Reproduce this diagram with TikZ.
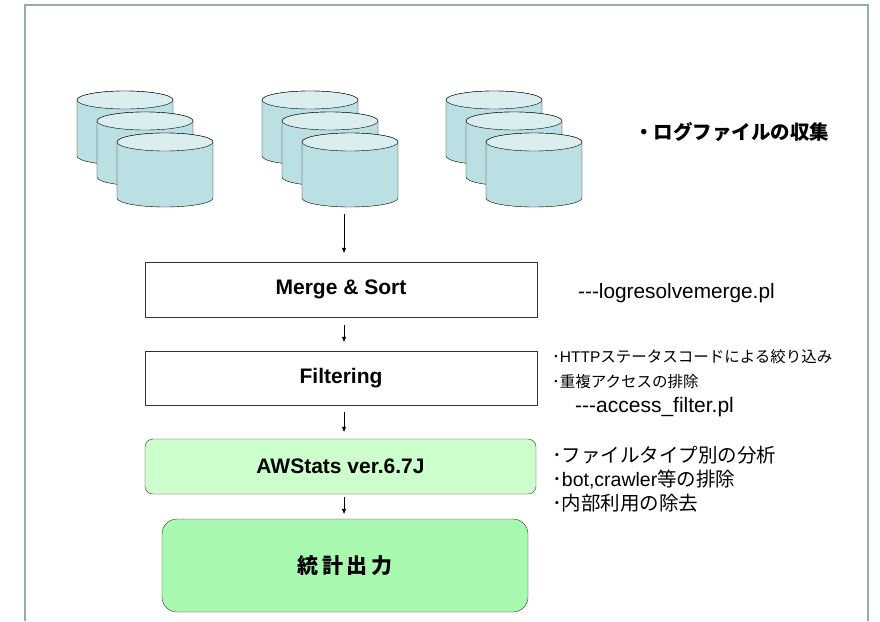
\documentclass[tikz,border=0pt]{standalone}
\usepackage{fontspec}
\setmainfont{Liberation Sans}
\newfontfamily\cjk{Noto Sans CJK JP}
\usetikzlibrary{arrows.meta}
\definecolor{framec}{HTML}{93AEB0}
\definecolor{dbbody}{HTML}{BBE0E3}
\definecolor{dbtop}{HTML}{DAEEF0}
\definecolor{awsfill}{HTML}{CCFFCC}
\definecolor{outfill}{HTML}{A8F8B0}
\tikzset{
  stepbox/.style={draw=black!80,rectangle,minimum width=392pt,minimum height=55pt,
    font=\bfseries\fontsize{21}{25}\selectfont},
  flow/.style={draw,-{Triangle[length=5pt,width=4pt]},line width=0.7pt},
  note/.style={anchor=west,inner sep=0pt}
}
\begin{document}
\begin{tikzpicture}[x=1pt,y=-1pt]
    \useasboundingbox (0,0) rectangle (880,621);
    \draw[framec,line width=2pt] (25,621) -- (25,5) -- (868,5) -- (868,621);
    \foreach \gx in {77,262,446}
      \foreach \dx/\dy in {0/0,20/21,40/42} {
        \path[draw,fill=dbbody] (\gx+\dx,100+\dy) -- (\gx+\dx,156+\dy)
          arc(180:360:48pt and 9pt) -- (\gx+\dx+96,100+\dy)
          arc(0:180:48pt and 9pt) -- cycle;
        \draw[fill=dbtop] (\gx+\dx+48,100+\dy) ellipse[x radius=48pt,y radius=9pt];
      }
    \coordinate (dbout) at (344,214);
    \node[stepbox] (merge) at (341,289.5) {Merge \& Sort};
    \node[stepbox,minimum height=54pt] (filt) at (341,378) {Filtering};
    \node[stepbox,fill=awsfill,rounded corners=8pt,minimum width=391pt] (aws) at (340.5,466.5) {AWStats ver.6.7J};
    \node[stepbox,fill=outfill,rounded corners=15pt,minimum width=366pt,minimum height=93pt,
      font=\cjk\bfseries\fontsize{21}{25}\selectfont] (out) at (345,565.5) {統\,計\,出\,力};
    \draw[flow,shorten >=9pt] (dbout) -- (merge.north -| dbout);
    \draw[flow,shorten <=8pt,shorten >=9pt] (merge.south -| dbout) -- (filt.north -| dbout);
    \draw[flow,shorten <=7pt,shorten >=7pt] (filt.south -| dbout) -- (aws.north -| dbout);
    \draw[flow,shorten <=3pt,shorten >=5pt] (aws.south -| dbout) -- (out.north -| dbout);
    \node[note,font=\cjk\bfseries\fontsize{19.5}{23}\selectfont] (collect) at (634,132) {・ログファイルの収集};
    \node[note,font=\fontsize{20.8}{24}\selectfont] (mergepl) at (578,293) {-{}-{}-logresolvemerge.pl};
    \node[note,font=\fontsize{15.5}{18}\selectfont] (http) at (552,357) {{\cjk ･}HTTP{\cjk ステータスコードによる絞り込み}};
    \node[note,font=\cjk\fontsize{15.5}{18}\selectfont] (dup) at (552,382) {･重複アクセスの排除};
    \node[note,font=\fontsize{21}{24}\selectfont] (filtpl) at (575,407) {-{}-{}-access\_filter.pl};
    \node[note,font=\cjk\fontsize{19.5}{22}\selectfont] (ftype) at (552,455) {･ファイルタイプ別の分析};
    \node[note,font=\fontsize{19.5}{22}\selectfont] (bot) at (552,480) {{\cjk ･}bot,crawler{\cjk 等の排除}};
    \node[note,font=\cjk\fontsize{19.5}{22}\selectfont] (inner) at (552,503) {･内部利用の除去};
\end{tikzpicture}
\end{document}
